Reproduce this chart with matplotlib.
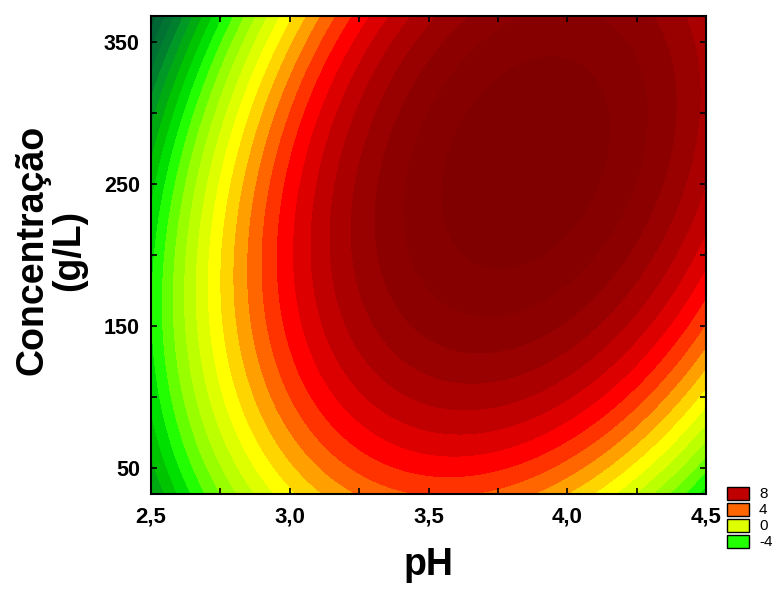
import numpy as np
import matplotlib
matplotlib.use("Agg")
import matplotlib.pyplot as plt
from matplotlib.colors import ListedColormap, BoundaryNorm
from matplotlib.ticker import MultipleLocator

# ---- fitted quadratic response surface, parameters ----
# z = peak_z - conc_curv*v^2 - ph_curv*(u - ridge_tilt*v)^2
# u = pH - peak_ph, v = (conc - peak_conc)/100
peak_z = 13.9
peak_ph = 3.85
peak_conc = 265.0
ph_curv = 10.9
conc_curv = 1.62
ridge_tilt = 0.125

ph_range = [2.5, 4.5]
conc_range = [32, 368]

x_ticks = [2.5, 3.0, 3.5, 4.0, 4.5]
x_ticklabels = ["2,5", "3,0", "3,5", "4,0", "4,5"]
y_ticks = [50, 150, 250, 350]
y_ticklabels = ["50", "150", "250", "350"]

level_values = list(range(-12, 15))
band_colors = ["#005a2c", "#006633", "#007333", "#00802e", "#009926", "#00aa11", "#00c400",
               "#00e000", "#22ff00", "#66ff00", "#99ff00", "#bbff00", "#ddff00", "#ffff00",
               "#ffd500", "#ffa000", "#ff6600", "#ff3300", "#ff0000", "#dd0000",
               "#c00000", "#aa0000", "#990000", "#8c0000", "#860000", "#800000"]
legend_values = [8, 4, 0, -4]

gx = np.linspace(ph_range[0], ph_range[1], 500)
gy = np.linspace(conc_range[0], conc_range[1], 500)
GX, GY = np.meshgrid(gx, gy)
U = GX - peak_ph
V = (GY - peak_conc) / 100.0
GZ = peak_z - conc_curv * V**2 - ph_curv * (U - ridge_tilt * V)**2

cmap = ListedColormap(band_colors)
cmap.set_under(band_colors[0]); cmap.set_over(band_colors[-1])
norm = BoundaryNorm(level_values, cmap.N)

fig = plt.figure(figsize=(7.79, 5.96), dpi=100)
ax = fig.add_axes([151/779, 1 - 494/596, (706-151)/779, (494-16)/596])
ax.contourf(GX, GY, GZ, levels=level_values, cmap=cmap, norm=norm, extend="both",
            antialiased=False)
ax.set_xlim(ph_range)
ax.set_ylim(conc_range)

font = "Liberation Sans"
ax.set_xticks(x_ticks)
ax.set_xticklabels(x_ticklabels, fontsize=16, fontweight="bold", family=font)
ax.set_yticks(y_ticks)
ax.set_yticklabels(y_ticklabels, fontsize=15.5, fontweight="bold", family=font)
ax.xaxis.set_minor_locator(MultipleLocator(0.25))
ax.yaxis.set_minor_locator(MultipleLocator(50))
ax.tick_params(which="both", direction="in", top=True, right=True, length=4, width=1.2,
               color="black")
ax.tick_params(axis="x", pad=9)
ax.tick_params(axis="y", pad=8)
for s in ax.spines.values():
    s.set_linewidth(1.5)

ax.set_xlabel("pH", fontsize=27, fontweight="bold", family=font, labelpad=14)
fig.text(51/779, 1 - 250/596, "Concentração\n(g/L)", rotation=90, ha="center", va="center",
         fontsize=27, fontweight="bold", family=font, linespacing=1.0, multialignment="center")

# legend
for i, val in enumerate(legend_values):
    col = band_colors[level_values.index(val)]
    y0 = 1 - (487 + i*16 + 13)/596
    fig.patches.append(plt.Rectangle((727/779, y0), 22/779, 13/596, transform=fig.transFigure,
                                     facecolor=col, edgecolor="black", linewidth=1.0))
    fig.text(759/779, y0 + 6.5/596, str(val), ha="left", va="center", fontsize=11, family=font)

fig.savefig("out.png", dpi=100)
